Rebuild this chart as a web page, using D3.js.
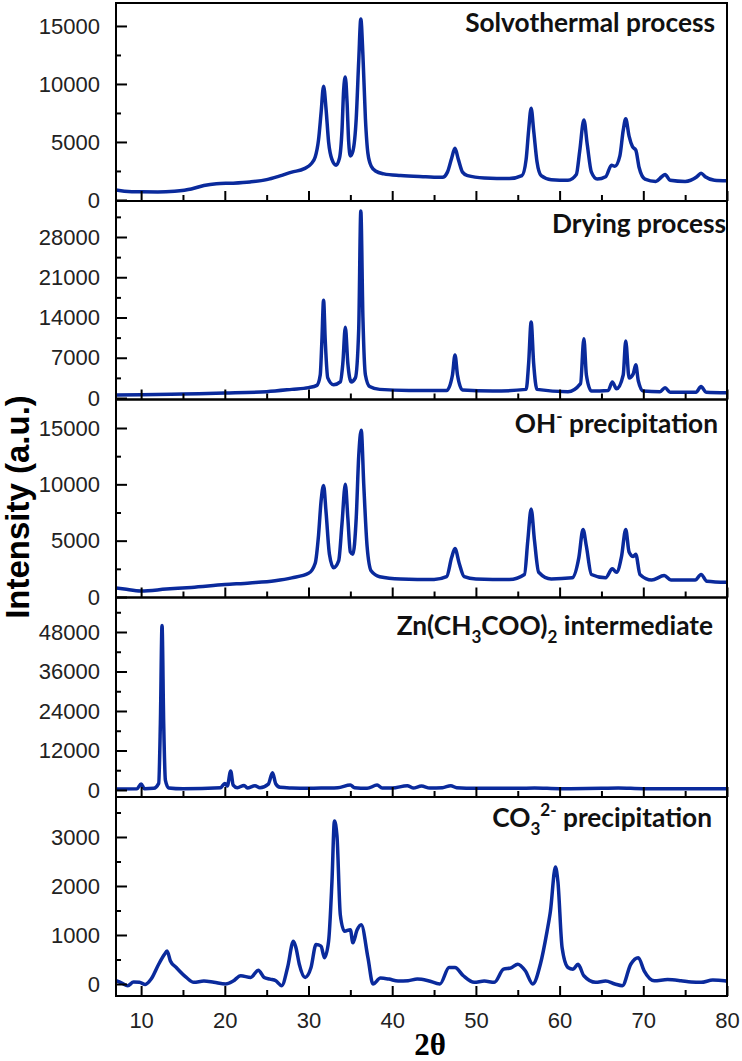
<!DOCTYPE html>
<html><head><meta charset="utf-8">
<script src="https://cdn.jsdelivr.net/npm/d3@7"></script>
<style>body{margin:0;background:#fff}svg{display:block}</style>
</head><body>
<svg id="chart" width="742" height="1061"></svg>
<script>
// ---------------- data ----------------
const xTicks = [10, 20, 30, 40, 50, 60, 70, 80];
const xMinorTicks = [15, 25, 35, 45, 55, 65, 75];

const solvothermal = [[7,850],[8,760],[10,700],[12,690],[14,760],[16,950],[17.5,1250],[19,1400],[21,1450],[23,1550],[25,1750],[26.5,2050],[28,2400],[29.5,2700],[30.3,3100],[30.8,3700],[31.2,5200],[31.5,7500],[31.8,9800],[32.1,7800],[32.4,5000],[32.8,3500],[33.3,3000],[33.7,3600],[34.0,6000],[34.2,9500],[34.4,10600],[34.6,8500],[34.8,5000],[35.0,3800],[35.3,4200],[35.7,7000],[36.0,12000],[36.25,15600],[36.5,12500],[36.8,7000],[37.1,4000],[37.5,2900],[38,2500],[39,2250],[41,2100],[44,2000],[46,1950],[46.6,2400],[47.1,3600],[47.5,4450],[47.9,3500],[48.4,2400],[49,2100],[51,1900],[54,1850],[55.5,2100],[56.0,3500],[56.3,6000],[56.6,7900],[56.9,6000],[57.3,3300],[57.8,2100],[59,1750],[61,1700],[62.0,2200],[62.4,4200],[62.9,6900],[63.3,4800],[63.8,2400],[64.5,1800],[65.5,2000],[66.2,3000],[66.6,2900],[67.2,3800],[67.6,6000],[67.9,7000],[68.3,5500],[68.7,4600],[69.1,4300],[69.5,2800],[70.2,1800],[71.5,1600],[72.2,2000],[72.6,2200],[73.2,1700],[75,1600],[76.4,2000],[76.9,2300],[77.4,2000],[78.5,1700],[80,1650]];

const drying = [[7,500],[10,550],[15,700],[20,850],[25,1100],[28,1500],[30,1800],[31,2200],[31.4,4000],[31.6,10000],[31.8,17000],[32.0,10000],[32.3,3500],[33,2300],[33.8,2800],[34.1,6000],[34.4,12300],[34.7,6000],[35.1,2800],[35.6,3500],[36.0,12000],[36.25,32500],[36.5,14000],[36.8,4000],[37.3,2000],[38.5,1500],[42,1300],[46.5,1300],[47.2,4000],[47.5,7500],[47.8,4000],[48.4,1400],[52,1200],[56.0,1500],[56.3,6000],[56.6,13200],[56.9,6000],[57.3,1500],[61,1100],[62.5,2500],[62.9,10300],[63.2,4000],[63.8,1200],[65.8,1300],[66.3,2800],[66.8,1600],[67.6,4000],[67.9,9900],[68.3,3500],[68.8,4200],[69.1,5800],[69.4,3000],[70,1200],[72,1100],[72.6,1800],[73.2,1000],[76.3,1000],[76.9,2000],[77.5,1000],[80,900]];

const ohPrecipitation = [[7,800],[8,700],[10,530],[13,700],[16,850],[20,1100],[23,1250],[26,1450],[28,1700],[30,2100],[30.8,3000],[31.2,5500],[31.5,8500],[31.8,9900],[32.1,7500],[32.5,3800],[33,2600],[33.6,3200],[34.0,6500],[34.4,10000],[34.7,7000],[35.0,4000],[35.3,3800],[35.7,7000],[36.0,12500],[36.3,14800],[36.6,10000],[37.0,4500],[37.5,2300],[38.5,1800],[41,1600],[45,1550],[46.5,1800],[47.1,3500],[47.5,4300],[48,3000],[48.6,1800],[50,1600],[54,1550],[55.8,2000],[56.2,5000],[56.6,7800],[57.0,5000],[57.5,2200],[59,1600],[61.5,1700],[62.3,3500],[62.8,6000],[63.2,4500],[63.8,2000],[65.5,1700],[66.3,2500],[66.8,2200],[67.4,3600],[67.9,6000],[68.3,4000],[68.8,3600],[69.1,3800],[69.6,2000],[71,1500],[72.5,1900],[73.3,1500],[76.2,1500],[76.9,2000],[77.6,1400],[80,1300]];

const znAcetate = [[7,300],[9.5,350],[10.0,1800],[10.4,400],[11.5,500],[12.1,2000],[12.3,20000],[12.5,50000],[12.7,20000],[12.9,3000],[13.3,600],[15,350],[19.5,700],[20.0,2000],[20.3,1200],[20.7,5800],[21.0,1500],[21.5,700],[22.3,1400],[22.7,600],[23.6,1300],[24.2,700],[25.2,1800],[25.7,5200],[26.1,1800],[26.6,800],[28,600],[30,500],[32,600],[33.5,700],[35,1500],[35.5,700],[37,500],[38.2,1500],[38.8,600],[40,600],[41.8,1300],[42.5,600],[43.5,1200],[44.5,600],[46,700],[47,1300],[47.7,700],[50,500],[55,500],[57,600],[60,400],[65,500],[67,600],[70,400],[75,400],[80,400]];

const co3Precipitation = [[7.0,67],[7.7,20],[8.4,-34],[9.1,40],[9.8,34],[10.5,-10],[11.2,100],[12.1,403],[12.8,605],[13.1,672],[13.5,470],[14.2,336],[15.4,134],[16.3,34],[17.5,60],[18.7,34],[20.1,0],[21.0,60],[21.9,168],[23.1,134],[24.0,282],[24.7,134],[25.4,100],[26.1,67],[26.8,-34],[27.5,336],[28.2,874],[28.5,740],[28.9,403],[29.6,134],[30.3,336],[30.9,806],[31.5,773],[31.9,538],[32.4,874],[32.8,2083],[33.1,3326],[33.4,3024],[33.8,1411],[34.3,1075],[35.0,1109],[35.3,840],[35.8,1100],[36.3,1210],[37.1,538],[37.7,0],[38.6,120],[39.6,100],[40.7,60],[41.9,67],[43.0,100],[44.3,67],[45.7,0],[46.8,336],[47.5,336],[48.5,168],[49.8,34],[51.0,60],[52.2,34],[53.3,302],[54.2,330],[55.0,403],[55.9,269],[56.8,0],[57.7,403],[58.5,1075],[58.9,1478],[59.5,2386],[59.8,2083],[60.3,739],[61.0,336],[61.6,300],[62.2,403],[62.9,168],[64.3,34],[65.5,60],[66.6,0],[67.5,-34],[68.5,403],[69.4,538],[70.1,269],[71.3,67],[72.9,90],[74.5,67],[75.7,40],[76.9,34],[78.3,80],[79.7,67],[80,60]];

const yTicks = [[0,5000,10000,15000],[0,7000,14000,21000,28000],[0,5000,10000,15000],[0,12000,24000,36000,48000],[0,1000,2000,3000]];
const yMinorTicks = [[2500,7500,12500],[3500,10500,17500,24500,31500],[2500,7500,12500],[6000,18000,30000,42000,54000],[500,1500,2500,3500]];

// ---------------- layout ----------------
const left = 116, right = 727;
const bounds = [3, 201, 399.5, 597.5, 797, 996];
const domains = [[-90,16980],[-260,34260],[-45,17530],[-2130,58480],[-245,3816]];
const series = [solvothermal, drying, ohPrecipitation, znAcetate, co3Precipitation];
const lineColor = "#0a2a9c";

const labels = [
  {parts:[{t:"Solvothermal process"}], endX:715, y:32},
  {parts:[{t:"Drying process"}], endX:726, y:233},
  {parts:[{t:"OH"},{t:"-",sup:true},{t:" precipitation"}], endX:718, y:433},
  {parts:[{t:"Zn(CH"},{t:"3",sub:true},{t:"COO)"},{t:"2",sub:true},{t:" intermediate"}], endX:713, y:635},
  {parts:[{t:"CO"},{t:"3",sub:true},{t:"2-",sup:true},{t:" precipitation"}], endX:712, y:827}
];
const firstLabelWidth = 250;

const svg = d3.select("#chart");
const x = d3.scaleLinear().domain([7, 80]).range([left, right]);
const defs = svg.append("defs");
const tickFont = "'Liberation Sans', Arial, sans-serif";

series.forEach((data, i) => {
  const top = bounds[i], bottom = bounds[i+1];
  const y = d3.scaleLinear().domain(domains[i]).range([bottom, top]);
  const g = svg.append("g");

  defs.append("clipPath").attr("id", "clip"+i)
    .append("rect").attr("x", left).attr("y", top).attr("width", right-left).attr("height", bottom-top);

  const line = d3.line().x(d => x(d[0])).y(d => y(d[1])).curve(d3.curveMonotoneX);
  g.append("path").datum(data)
    .attr("clip-path", "url(#clip"+i+")")
    .attr("d", line)
    .attr("fill", "none")
    .attr("stroke", lineColor)
    .attr("stroke-width", 3.5)
    .attr("stroke-linejoin", "round");

  const ya = g.append("g").attr("transform", `translate(${left},0)`)
    .call(d3.axisLeft(y).tickValues(yTicks[i]).tickSizeInner(-11).tickSizeOuter(0).tickPadding(16).tickFormat(d3.format("d")));
  ya.select(".domain").remove();
  ya.selectAll(".tick line").attr("stroke", "#000").attr("stroke-width", 2);
  ya.selectAll(".tick text").attr("font-family", tickFont).attr("font-size", 22).attr("fill", "#222");
  const ym = g.append("g").attr("transform", `translate(${left},0)`)
    .call(d3.axisLeft(y).tickValues(yMinorTicks[i]).tickSizeInner(-5).tickSizeOuter(0).tickFormat(""));
  ym.select(".domain").remove();
  ym.selectAll(".tick line").attr("stroke", "#000").attr("stroke-width", 2);

  const isLast = i === series.length - 1;
  const xa = g.append("g").attr("transform", `translate(0,${bottom})`)
    .call(d3.axisBottom(x).tickValues(xTicks).tickSizeInner(-10).tickSizeOuter(0).tickPadding(16).tickFormat(isLast ? d3.format("d") : ""));
  xa.select(".domain").remove();
  xa.selectAll(".tick line").attr("stroke", "#000").attr("stroke-width", 2);
  xa.selectAll(".tick text").attr("font-family", tickFont).attr("font-size", 22).attr("fill", "#222");
  const xm = g.append("g").attr("transform", `translate(0,${bottom})`)
    .call(d3.axisBottom(x).tickValues(xMinorTicks).tickSizeInner(-6).tickSizeOuter(0).tickFormat(""));
  xm.select(".domain").remove();
  xm.selectAll(".tick line").attr("stroke", "#000").attr("stroke-width", 2);

  g.append("rect").attr("x", left).attr("y", top).attr("width", right-left).attr("height", bottom-top)
    .attr("fill", "none").attr("stroke", "#000").attr("stroke-width", 2);
});

// panel labels (one common size, fitted on the first label)
const labelFont = "Lato, 'Open Sans', sans-serif";
const probe = svg.append("text").attr("font-family", labelFont).attr("font-weight", "bold")
  .attr("font-size", 24).text(labels[0].parts[0].t);
const labelSize = 24 * firstLabelWidth / probe.node().getComputedTextLength();
probe.remove();

labels.forEach(l => {
  const t = svg.append("text").attr("x", l.endX).attr("y", l.y)
    .attr("text-anchor", "end")
    .attr("font-family", labelFont)
    .attr("font-weight", "bold")
    .attr("font-size", labelSize.toFixed(2))
    .attr("fill", "#111");
  let shift = 0;
  l.parts.forEach(p => {
    const ts = t.append("tspan").text(p.t);
    if (p.sub) {
      ts.attr("font-size", "65%").attr("dy", ((0.3 - shift) / 0.65).toFixed(3) + "em");
      shift = 0.3;
    } else if (p.sup) {
      ts.attr("font-size", "65%").attr("dy", ((-0.4 - shift) / 0.65).toFixed(3) + "em");
      shift = -0.4;
    } else if (shift !== 0) {
      ts.attr("dy", (-shift).toFixed(3) + "em");
      shift = 0;
    }
  });
});

// axis titles
svg.append("text")
  .attr("transform", "translate(29,507) rotate(-90)")
  .attr("text-anchor", "middle")
  .attr("font-family", tickFont)
  .attr("font-weight", "bold")
  .attr("font-size", 33)
  .attr("fill", "#000")
  .text("Intensity (a.u.)");

svg.append("text")
  .attr("x", 430).attr("y", 1055)
  .attr("text-anchor", "middle")
  .attr("font-family", "'Liberation Serif', 'Times New Roman', serif")
  .attr("font-weight", "bold")
  .attr("font-size", 31)
  .attr("fill", "#000")
  .text("2θ");
</script>
</body></html>
